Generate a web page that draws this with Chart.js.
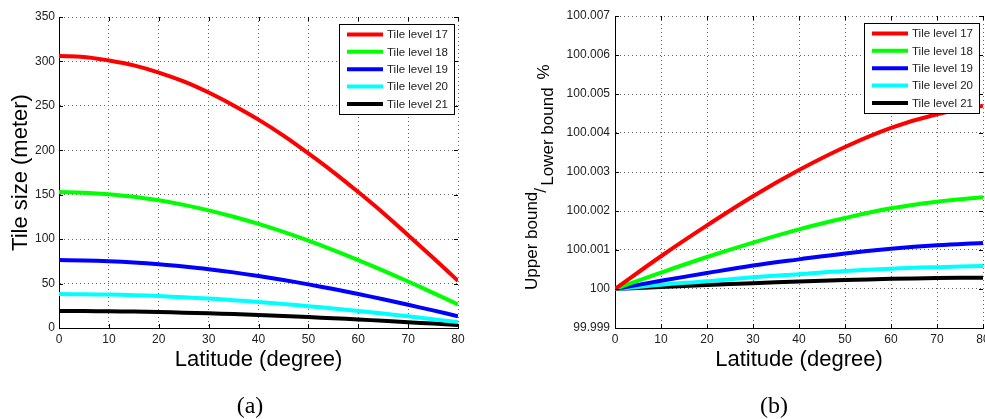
<!DOCTYPE html>
<html>
<head>
<meta charset="utf-8">
<title>Tile size and bound ratio by latitude</title>
<script src="https://cdn.jsdelivr.net/npm/chart.js@4"></script>
<style>
  body { margin: 0; background: #fff; }
  #wrap { position: relative; width: 985px; height: 419px; overflow: hidden; }
  canvas { position: absolute; top: 0; }
  #sizeChart { left: 0; }
  #ratioChart { left: 490px; }
  .caption {
    position: absolute; top: 391px; width: 60px; text-align: center;
    font: 24px/28px 'Liberation Serif', 'DejaVu Serif', serif; color: #000;
  }
</style>
</head>
<body>
<div id="wrap">
  <canvas id="sizeChart" width="490" height="419"></canvas>
  <canvas id="ratioChart" width="495" height="419"></canvas>
  <div class="caption" style="left:220px">(a)</div>
  <div class="caption" style="left:744px">(b)</div>
</div>
<script>
// Tile levels shown in both panels
const levelNames = ['Tile level 17', 'Tile level 18', 'Tile level 19', 'Tile level 20', 'Tile level 21'];
const levelColors = ['#ff0000', '#00ff00', '#0000ff', '#00ffff', '#000000'];

// Panel (a): tile size in meters, sampled every 5 degrees
const latitudesA = [0, 5, 10, 15, 20, 25, 30, 35, 40, 45, 50, 55, 60, 65, 70, 75, 80];
const sizeLevel17 = [306, 305, 301, 295.5, 287.5, 277.5, 265, 250.5, 234.5, 216.5, 196.5, 175.5, 153, 129.5, 104.5, 79, 53];
const sizeLevel18 = [153, 152.3, 150.6, 147.7, 143.7, 138.6, 132.4, 125.2, 117.1, 108.1, 98.3, 87.7, 76.4, 64.6, 52.3, 39.6, 26.5];
const sizeLevel19 = [76.5, 76.1, 75.2, 73.8, 71.8, 69.2, 66.2, 62.6, 58.5, 54, 49.1, 43.8, 38.2, 32.3, 26.1, 19.8, 13.3];
const sizeLevel20 = [38.2, 38, 37.6, 36.9, 35.9, 34.6, 33.1, 31.3, 29.3, 27, 24.6, 21.9, 19.1, 16.2, 13.1, 9.9, 6.6];
const sizeLevel21 = [19.1, 19, 18.8, 18.5, 18, 17.3, 16.5, 15.7, 14.6, 13.5, 12.3, 11, 9.6, 8.1, 6.5, 5, 3.3];

// Panel (b): upper bound / lower bound in percent, sampled every 10 degrees
const latitudesB = [0, 10, 20, 30, 40, 50, 60, 70, 80];
const ratioLevel17 = [100, 100.00084, 100.00163, 100.00238, 100.00305, 100.00364, 100.00413, 100.00448, 100.0047];
const ratioLevel18 = [100, 100.00042, 100.00082, 100.00119, 100.00153, 100.00182, 100.00207, 100.00224, 100.00235];
const ratioLevel19 = [100, 100.00021, 100.00041, 100.0006, 100.00076, 100.00091, 100.00103, 100.00112, 100.00118];
const ratioLevel20 = [100, 100.00011, 100.0002, 100.0003, 100.00038, 100.00046, 100.00052, 100.00056, 100.00059];
const ratioLevel21 = [100, 100.00005, 100.0001, 100.00015, 100.00019, 100.00023, 100.00026, 100.00028, 100.00029];

// Axis ticks
const latitudeTicks = [0, 10, 20, 30, 40, 50, 60, 70, 80];
const sizeTicks = [0, 50, 100, 150, 200, 250, 300, 350];
const ratioTicks = [99.999, 100, 100.001, 100.002, 100.003, 100.004, 100.005, 100.006, 100.007];

const sansFont = "'Liberation Sans', Arial, Helvetica, sans-serif";
Chart.defaults.font.family = sansFont;

function buildDatasets(latitudes, seriesList) {
  return seriesList.map((values, i) => ({
    label: levelNames[i],
    data: latitudes.map((lat, j) => ({ x: lat, y: values[j] })),
    borderColor: levelColors[i],
    backgroundColor: levelColors[i],
    borderWidth: 4,
    pointRadius: 0,
    tension: 0.4,
    fill: false
  }));
}

// Legend box drawn inside the top-right corner of the plot area
const boxLegend = {
  id: 'boxLegend',
  afterDraw(chart) {
    const { ctx, chartArea } = chart;
    const w = 115, h = 90;
    const left = chartArea.right - 4 - w;
    const top = chartArea.top + 7;
    ctx.save();
    ctx.fillStyle = '#fff';
    ctx.fillRect(left, top, w, h);
    ctx.strokeStyle = '#000';
    ctx.lineWidth = 1;
    ctx.strokeRect(left + 0.5, top + 0.5, w, h);
    ctx.font = '11.5px ' + sansFont;
    ctx.textBaseline = 'middle';
    ctx.textAlign = 'left';
    chart.data.datasets.forEach((ds, i) => {
      const y = top + 10.5 + i * 17.35;
      ctx.strokeStyle = ds.borderColor;
      ctx.lineWidth = 4;
      ctx.beginPath();
      ctx.moveTo(left + 8, y);
      ctx.lineTo(left + 44, y);
      ctx.stroke();
      ctx.fillStyle = '#222';
      ctx.fillText(ds.label, left + 48, y + 0.5);
    });
    ctx.restore();
  }
};

// Short inward tick marks on all four sides of the plot box
const innerTicks = {
  id: 'innerTicks',
  afterDatasetsDraw(chart) {
    const { ctx, chartArea, scales } = chart;
    const len = 4;
    ctx.save();
    ctx.strokeStyle = '#000';
    ctx.lineWidth = 1;
    ctx.beginPath();
    scales.x.ticks.forEach(t => {
      const x = Math.round(scales.x.getPixelForValue(t.value)) + 0.5;
      ctx.moveTo(x, chartArea.bottom);
      ctx.lineTo(x, chartArea.bottom - len);
      ctx.moveTo(x, chartArea.top);
      ctx.lineTo(x, chartArea.top + len);
    });
    scales.y.ticks.forEach(t => {
      const y = Math.round(scales.y.getPixelForValue(t.value)) + 0.5;
      ctx.moveTo(chartArea.left, y);
      ctx.lineTo(chartArea.left + len, y);
      ctx.moveTo(chartArea.right, y);
      ctx.lineTo(chartArea.right - len, y);
    });
    ctx.stroke();
    ctx.restore();
  }
};

// Stacked fraction-style title for the ratio axis
const ratioAxisTitle = {
  id: 'ratioAxisTitle',
  afterDraw(chart) {
    const { ctx } = chart;
    ctx.save();
    ctx.translate(47, 290);
    ctx.rotate(-Math.PI / 2);
    ctx.fillStyle = '#000';
    ctx.font = '17px ' + sansFont;
    ctx.textBaseline = 'alphabetic';
    ctx.textAlign = 'left';
    const upperW = ctx.measureText('Upper bound').width;
    ctx.fillText('Upper bound', 0, 0);
    ctx.fillText('/', upperW - 1, 9);
    const lowerX = upperW + 6;
    ctx.fillText('Lower bound', lowerX, 16);
    const lowerW = ctx.measureText('Lower bound').width;
    ctx.fillText('%', lowerX + lowerW + 8, 12);
    ctx.restore();
  }
};

function buildOptions(cfg) {
  return {
    responsive: false,
    animation: false,
    layout: { padding: cfg.padding },
    plugins: { legend: { display: false }, tooltip: { enabled: false } },
    scales: {
      x: {
        type: 'linear',
        min: 0,
        max: 80,
        afterBuildTicks: scale => { scale.ticks = latitudeTicks.map(v => ({ value: v })); },
        afterFit: scale => { scale.height = 91; scale.paddingLeft = 0; scale.paddingRight = 0; },
        grid: { color: '#666', lineWidth: 1, drawTicks: false },
        border: { display: true, color: '#000', width: 1, dash: [1, 3] },
        ticks: { color: '#222', padding: 4, maxRotation: 0, font: { size: 12 } },
        title: {
          display: true, text: 'Latitude (degree)', color: '#000',
          font: { size: 22 }, padding: { top: 0, bottom: 46 }
        }
      },
      y: {
        type: 'linear',
        min: cfg.yTicks[0],
        max: cfg.yTicks[cfg.yTicks.length - 1],
        afterBuildTicks: scale => { scale.ticks = cfg.yTicks.map(v => ({ value: v })); },
        afterFit: scale => { scale.width = cfg.yWidth; scale.paddingTop = 0; scale.paddingBottom = 0; },
        grid: { color: '#666', lineWidth: 1, drawTicks: false },
        border: { display: true, color: '#000', width: 1, dash: [1, 3] },
        ticks: {
          color: '#222', padding: cfg.yPad, font: { size: 12 },
          callback: v => String(Number(v.toFixed(3)))
        },
        title: cfg.yTitle
      }
    }
  };
}

new Chart(document.getElementById('sizeChart'), {
  type: 'line',
  data: {
    datasets: buildDatasets(latitudesA, [sizeLevel17, sizeLevel18, sizeLevel19, sizeLevel20, sizeLevel21])
  },
  options: buildOptions({
    padding: { left: 0, top: 17, right: 32, bottom: 0 },
    yTicks: sizeTicks,
    yWidth: 59,
    yPad: 4,
    yTitle: {
      display: true, text: 'Tile size (meter)', color: '#000',
      font: { size: 22 }, padding: { top: 8, bottom: 0 }
    }
  }),
  plugins: [innerTicks, boxLegend]
});

new Chart(document.getElementById('ratioChart'), {
  type: 'line',
  data: {
    datasets: buildDatasets(latitudesB, [ratioLevel17, ratioLevel18, ratioLevel19, ratioLevel20, ratioLevel21])
  },
  options: buildOptions({
    padding: { left: 0, top: 16, right: 2, bottom: 0 },
    yTicks: ratioTicks,
    yWidth: 125,
    yPad: 5,
    yTitle: { display: false }
  }),
  plugins: [innerTicks, boxLegend, ratioAxisTitle]
});
</script>
</body>
</html>
